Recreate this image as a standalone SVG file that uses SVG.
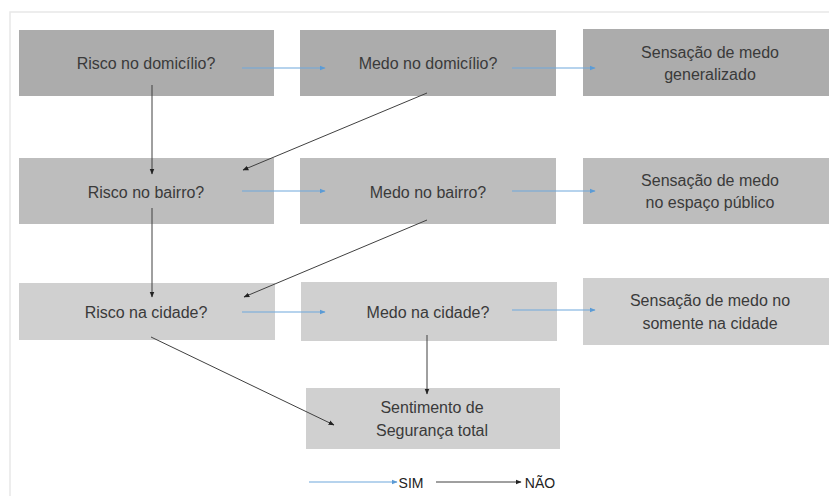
<svg xmlns="http://www.w3.org/2000/svg" width="829" height="496" viewBox="0 0 829 496">
<style>
text{font-family:"Liberation Sans",Arial,sans-serif;font-size:16px;fill:#3a3a3a;text-anchor:middle}
.r1{fill:#acacac}.r2{fill:#bdbdbd}.r3{fill:#d0d0d0}
.sim{stroke:#6fa8dc;stroke-width:1.2;fill:none}
.nao{stroke:#404040;stroke-width:1;fill:none}
</style>
<defs>
<marker id="mb" viewBox="0 0 10 10" refX="9" refY="5" markerWidth="5" markerHeight="5" orient="auto"><path d="M0,1 L10,5 L0,9 Z" fill="#5b9bd5"/></marker>
<marker id="mk" viewBox="0 0 10 10" refX="9" refY="5" markerWidth="6" markerHeight="6" orient="auto"><path d="M0,1 L10,5 L0,9 Z" fill="#222"/></marker>
</defs>
<rect width="829" height="496" fill="#fff"/>
<path d="M10,496 V12 H829" fill="none" stroke="#e8e8e8" stroke-width="1.5"/>
<g id="n1"><rect class="r1" x="19" y="30" width="255" height="66"/><text x="146" y="69">Risco no domicílio?</text></g>
<g id="n2"><rect class="r1" x="300" y="30" width="256" height="66"/><text x="428" y="69">Medo no domicílio?</text></g>
<g id="n3"><rect class="r1" x="583" y="29" width="246" height="67"/><text x="710" y="58">Sensação de medo</text><text x="710" y="80">generalizado</text></g>
<g id="n4"><rect class="r2" x="19" y="158" width="255" height="66"/><text x="146" y="197.5">Risco no bairro?</text></g>
<g id="n5"><rect class="r2" x="300" y="158" width="256" height="66"/><text x="428" y="197.5">Medo no bairro?</text></g>
<g id="n6"><rect class="r2" x="583" y="158" width="246" height="66"/><text x="710" y="186">Sensação de medo</text><text x="710" y="208">no espaço público</text></g>
<g id="n7"><rect class="r3" x="19" y="283" width="256" height="57"/><text x="146" y="317.5">Risco na cidade?</text></g>
<g id="n8"><rect class="r3" x="301" y="282" width="256" height="59"/><text x="428" y="317.5">Medo na cidade?</text></g>
<g id="n9"><rect class="r3" x="583" y="278" width="246" height="67"/><text x="710" y="306">Sensação de medo no</text><text x="710" y="329">somente na cidade</text></g>
<g id="n10"><rect class="r3" x="306" y="388" width="254" height="61"/><text x="432" y="413">Sentimento de</text><text x="432" y="436">Segurança total</text></g>
<g id="connectors">
<line class="sim" x1="242" y1="68" x2="325" y2="68" marker-end="url(#mb)"/>
<line class="sim" x1="512" y1="68" x2="595" y2="68" marker-end="url(#mb)"/>
<line class="sim" x1="242" y1="191" x2="325" y2="191" marker-end="url(#mb)"/>
<line class="sim" x1="512" y1="191" x2="595" y2="191" marker-end="url(#mb)"/>
<line class="sim" x1="242" y1="312" x2="325" y2="312" marker-end="url(#mb)"/>
<line class="sim" x1="512" y1="310" x2="595" y2="310" marker-end="url(#mb)"/>
<line class="nao" x1="152" y1="85" x2="152" y2="174" marker-end="url(#mk)"/>
<line class="nao" x1="427" y1="93" x2="243" y2="170" marker-end="url(#mk)"/>
<line class="nao" x1="152" y1="208" x2="152" y2="297" marker-end="url(#mk)"/>
<line class="nao" x1="427" y1="220" x2="244" y2="297" marker-end="url(#mk)"/>
<line class="nao" x1="151" y1="337" x2="334" y2="425" marker-end="url(#mk)"/>
<line class="nao" x1="427" y1="335" x2="427" y2="394" marker-end="url(#mk)"/>
</g>
<g id="legend">
<line class="sim" x1="309" y1="482" x2="397" y2="482" marker-end="url(#mb)"/>
<text x="411" y="487.5" style="font-size:14px;fill:#222">SIM</text>
<line class="nao" x1="436" y1="482" x2="521" y2="482" marker-end="url(#mk)"/>
<text x="540" y="487.5" style="font-size:14px;fill:#222">NÃO</text>
</g>
</svg>
